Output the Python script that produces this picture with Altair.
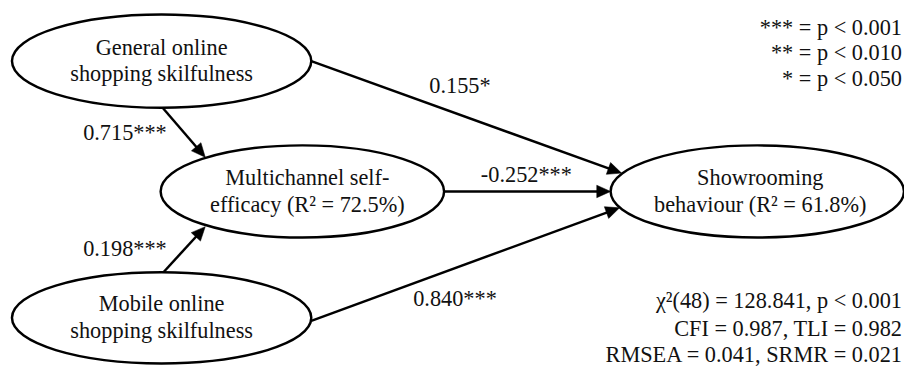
import altair as alt
import pandas as pd
import math

# ---- nodes (latent constructs) ----
node_names = ["General", "Multichannel", "Mobile", "Showrooming"]
node_line1 = ["General online", "Multichannel self-", "Mobile online", "Showrooming"]
node_line2 = ["shopping skilfulness", "efficacy (R² = 72.5%)", "shopping skilfulness", "behaviour (R² = 61.8%)"]

# ---- paths ----
edge_from = ["General", "Mobile", "General", "Multichannel", "Mobile"]
edge_to = ["Multichannel", "Multichannel", "Showrooming", "Showrooming", "Showrooming"]
edge_labels = ["0.715***", "0.198***", "0.155*", "-0.252***", "0.840***"]

legend_lines = ["*** = p < 0.001", "** = p < 0.010", "* = p < 0.050"]
fit_lines = ["χ²(48) = 128.841, p < 0.001", "CFI = 0.987, TLI = 0.982", "RMSEA = 0.041, SRMR = 0.021"]

# ---- layout (pixel coordinates of the diagram) ----
node_cx = [163, 305, 163, 764]
node_cy = [60, 191.5, 319, 191.5]
node_rx = [151, 143, 151, 148]
node_ry = [47, 46.5, 46, 46.5]
text_dx = [0, 5, 0, 3]
line_gap = 13.5
edge_start = [(164, 107), (163, 275), (314, 60), (448, 191.5), (314, 322)]
edge_tip = [(207, 157), (207, 227), (627, 173), (616, 191.5), (625, 208)]
label_pos = [(126, 133), (126, 250), (464, 85), (531, 175), (459, 300)]
legend_x, legend_y = 910, [27, 52, 78]
fit_x, fit_y = 910, [302, 330, 357]

FONT = "Liberation Serif"
FS = 22.5
SW = 2.5
TC = "#111111"

W, H = 904, 358
xs = alt.Scale(domain=[8, 8 + W], range=[0, W])
ys = alt.Scale(domain=[8, 8 + H], range=[0, H])
X = lambda f: alt.X(f, scale=xs, axis=None)
Y = lambda f: alt.Y(f, scale=ys, axis=None)

# ellipses as custom symbol paths
paths = []
sizes = []
for rx, ry in zip(node_rx, node_ry):
    k = ry / rx
    paths.append(f"M -1 0 A 1 {k:.4f} 0 1 0 1 0 A 1 {k:.4f} 0 1 0 -1 0 Z")
    sizes.append((2 * rx) ** 2)
nodes_df = pd.DataFrame({"node": node_names, "x": node_cx, "y": node_cy, "size": sizes})

ellipses = alt.Chart(nodes_df).mark_point(filled=True, fill="white", stroke="black",
                                          strokeWidth=SW, opacity=1).encode(
    x=X("x:Q"), y=Y("y:Q"),
    shape=alt.Shape("node:N", scale=alt.Scale(domain=node_names, range=paths), legend=None),
    size=alt.Size("size:Q", scale=None),
)

# node text
rows = []
for i in range(len(node_names)):
    rows.append({"t": node_line1[i], "x": node_cx[i] + text_dx[i], "y": node_cy[i] - line_gap})
    rows.append({"t": node_line2[i], "x": node_cx[i] + text_dx[i], "y": node_cy[i] + line_gap})
node_text = alt.Chart(pd.DataFrame(rows)).mark_text(font=FONT, fontSize=FS, color=TC,
                                                    baseline="middle", align="center").encode(
    x=X("x:Q"), y=Y("y:Q"), text="t:N")

# edges
erows = []
for (sx, sy), (tx, ty) in zip(edge_start, edge_tip):
    dx, dy = tx - sx, ty - sy
    L = math.hypot(dx, dy)
    ux, uy = dx / L, dy / L
    ang = (math.degrees(math.atan2(dx, -dy)) + 360) % 360
    erows.append({"x": sx, "y": sy, "x2": tx - ux * 8, "y2": ty - uy * 8,
                  "tx": tx, "ty": ty, "ang": ang})
edf = pd.DataFrame(erows)
rules = alt.Chart(edf).mark_rule(color="black", strokeWidth=SW).encode(
    x=X("x:Q"), y=Y("y:Q"), x2="x2:Q", y2="y2:Q")
heads = alt.Chart(edf).mark_point(filled=True, fill="black", stroke="black", strokeWidth=0.5,
                                  opacity=1, shape="M 0 0 L 0.45 1 L -0.45 1 Z", size=784).encode(
    x=X("tx:Q"), y=Y("ty:Q"), angle=alt.Angle("ang:Q", scale=None))

ldf = pd.DataFrame({"t": edge_labels, "x": [p[0] for p in label_pos], "y": [p[1] for p in label_pos]})
edge_text = alt.Chart(ldf).mark_text(font=FONT, fontSize=FS, color=TC, baseline="middle",
                                     align="center").encode(x=X("x:Q"), y=Y("y:Q"), text="t:N")

sdf = pd.DataFrame({"t": legend_lines + fit_lines,
                    "x": [legend_x] * 3 + [fit_x] * 3,
                    "y": legend_y + fit_y})
side_text = alt.Chart(sdf).mark_text(font=FONT, fontSize=FS, color=TC, baseline="middle",
                                     align="right").encode(x=X("x:Q"), y=Y("y:Q"), text="t:N")

chart = alt.layer(rules, heads, ellipses, node_text, edge_text, side_text).properties(
    width=W, height=H, padding=0, background="white",
    autosize=alt.AutoSizeParams(type="none")
).configure_view(strokeWidth=0, stroke="transparent")

chart.save("out.html", embed_options={"renderer": "svg", "actions": False})
